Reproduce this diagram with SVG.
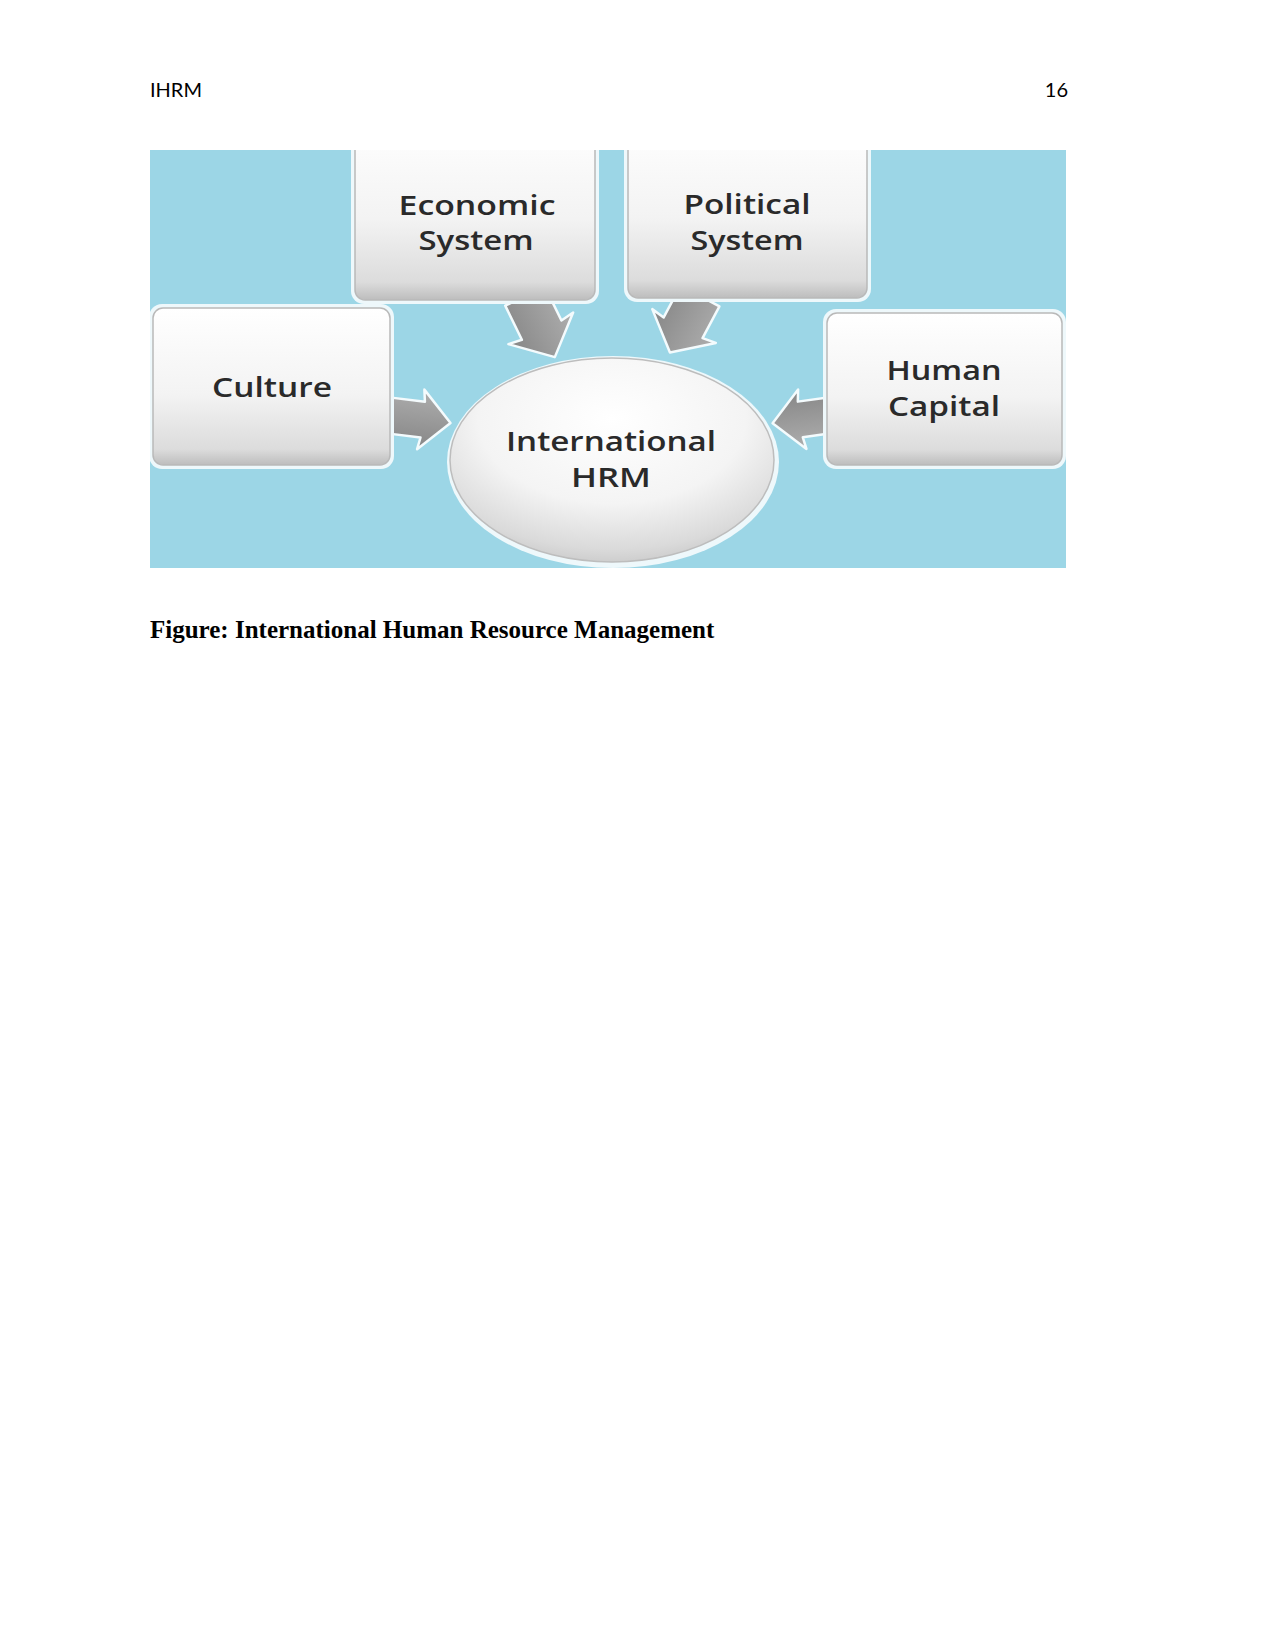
<svg xmlns="http://www.w3.org/2000/svg" width="1275" height="1650" viewBox="0 0 1275 1650">
<defs>
<style>
.hdr{font-family:Lato,"Liberation Sans",sans-serif;font-size:20px;fill:#000}
.cap{font-family:"Liberation Serif",serif;font-size:25px;font-weight:bold;fill:#000}
.lbl{font-family:"Open Sans","Liberation Sans",sans-serif;font-size:27px;font-weight:600;fill:#2a2a2a;text-anchor:middle}
.box{fill:url(#boxg);stroke:#b9b9b9;stroke-width:1.5}
.glow{fill:#eef8fb;stroke:none}
.arr{fill:url(#arrg);stroke:#f4fbfd;stroke-width:2.5;stroke-linejoin:round}
</style>
<linearGradient id="boxg" x1="0" y1="0" x2="0" y2="1">
<stop offset="0" stop-color="#ffffff"/>
<stop offset="0.55" stop-color="#f3f3f3"/>
<stop offset="0.9" stop-color="#dcdcdc"/>
<stop offset="1" stop-color="#bdbdbd"/>
</linearGradient>
<linearGradient id="arrg" x1="0" y1="0" x2="0" y2="1">
<stop offset="0" stop-color="#aeaeae"/>
<stop offset="1" stop-color="#868686"/>
</linearGradient>
<radialGradient id="ellg" cx="0.5" cy="0.3" r="0.75">
<stop offset="0" stop-color="#ffffff"/>
<stop offset="0.55" stop-color="#f4f4f4"/>
<stop offset="0.85" stop-color="#dadada"/>
<stop offset="1" stop-color="#c4c4c4"/>
</radialGradient>
<clipPath id="figclip"><rect x="150" y="150" width="916" height="418"/></clipPath>
</defs>

<text class="hdr" x="150" y="97">IHRM</text>
<text class="hdr" x="1068" y="97" text-anchor="end">16</text>

<g id="figure" clip-path="url(#figclip)">
<rect x="150" y="150" width="916" height="418" fill="#9cd6e6"/>

<g id="connectors">
<g transform="translate(525,296) rotate(64)"><polygon class="arr" points="0,-22 38,-22 36,-36 68,0 36,36 38,22 0,22"/></g>
<g transform="translate(700,296) rotate(118)"><polygon class="arr" points="0,-22 36,-22 34,-36 64,0 34,36 36,22 0,22"/></g>
<g transform="translate(385,415) rotate(7)"><polygon class="arr" points="0,-18 38,-18 36,-30 66,0 36,30 38,18 0,18"/></g>
<g transform="translate(832,415) rotate(172)"><polygon class="arr" points="0,-18 32,-18 30,-30 60,0 30,30 32,18 0,18"/></g>
</g>

<g id="node-ihrm">
<ellipse cx="613" cy="462" rx="166" ry="106" fill="#eef8fb"/>
<ellipse cx="612" cy="460" rx="162" ry="102" fill="url(#ellg)" stroke="#bdbdbd" stroke-width="1.5"/>
<text class="lbl" x="611" y="451" textLength="210" lengthAdjust="spacingAndGlyphs">International</text>
<text class="lbl" x="611" y="487" textLength="80" lengthAdjust="spacingAndGlyphs">HRM</text>
</g>

<g id="node-economic">
<rect class="glow" x="351" y="116" width="248" height="188" rx="13"/>
<rect class="box" x="355" y="120" width="240" height="180" rx="10"/>
<text class="lbl" x="477" y="215" textLength="157" lengthAdjust="spacingAndGlyphs">Economic</text>
<text class="lbl" x="476" y="250" textLength="115" lengthAdjust="spacingAndGlyphs">System</text>
</g>

<g id="node-political">
<rect class="glow" x="624" y="116" width="247" height="186" rx="13"/>
<rect class="box" x="628" y="120" width="239" height="178" rx="10"/>
<text class="lbl" x="747" y="214" textLength="127" lengthAdjust="spacingAndGlyphs">Political</text>
<text class="lbl" x="747" y="250" textLength="113" lengthAdjust="spacingAndGlyphs">System</text>
</g>

<g id="node-culture">
<rect class="glow" x="149" y="304" width="245" height="165" rx="13"/>
<rect class="box" x="153" y="308" width="237" height="157" rx="10"/>
<text class="lbl" x="272" y="397" textLength="120" lengthAdjust="spacingAndGlyphs">Culture</text>
</g>

<g id="node-human-capital">
<rect class="glow" x="823" y="309" width="243" height="160" rx="13"/>
<rect class="box" x="827" y="313" width="235" height="152" rx="10"/>
<text class="lbl" x="944" y="380" textLength="115" lengthAdjust="spacingAndGlyphs">Human</text>
<text class="lbl" x="944" y="416" textLength="112" lengthAdjust="spacingAndGlyphs">Capital</text>
</g>
</g>

<text class="cap" x="150" y="638">Figure: International Human Resource Management</text>
</svg>
